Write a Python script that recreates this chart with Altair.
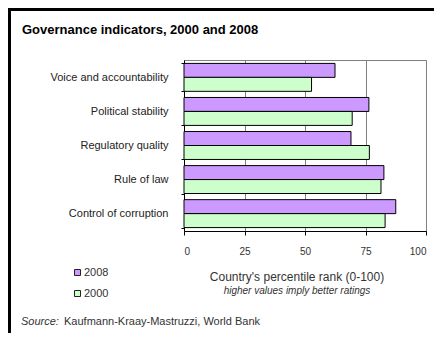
import altair as alt
import pandas as pd

categories = ["Voice and accountability", "Political stability", "Regulatory quality",
              "Rule of law", "Control of corruption"]
years = ["2008", "2000"]
values_2008 = [62.4, 76.4, 69.0, 82.6, 87.5]
values_2000 = [52.7, 69.5, 76.6, 81.4, 83.1]
x_ticks = [0, 25, 50, 75, 100]

rows = []
for c, a, b in zip(categories, values_2008, values_2000):
    rows.append({"cat": c, "year": "2008", "v": a})
    rows.append({"cat": c, "year": "2000", "v": b})
df = pd.DataFrame(rows)

FONT = "Liberation Sans"

bars = alt.Chart(df).mark_bar(stroke="black", strokeWidth=1).encode(
    x=alt.X("v:Q", scale=alt.Scale(domain=[0, 100], nice=False),
            axis=alt.Axis(values=x_ticks, title=None, grid=True, gridColor="#808080",
                          gridOpacity=1, domainColor="black", tickColor="black",
                          tickSize=4, labelPadding=11, labelFontSize=10,
                          labelColor="#333", labelFont=FONT)),
    y=alt.Y("cat:N", sort=categories,
            scale=alt.Scale(paddingInner=0.18, paddingOuter=0.1),
            axis=alt.Axis(title=None, labelFontSize=11, labelColor="#222", labelFont=FONT,
                          domainColor="black", tickColor="black", tickSize=3,
                          tickBand="extent", labelPadding=13)),
    yOffset=alt.YOffset("year:N", sort=years),
    color=alt.Color("year:N", sort=years,
                    scale=alt.Scale(domain=years, range=["#CC99FF", "#CCFFCC"]),
                    legend=alt.Legend(title=None, orient="none", legendX=-112, legendY=207,
                                      symbolType="square", symbolSize=36,
                                      symbolStrokeColor="#222", symbolStrokeWidth=1,
                                      labelFontSize=11, labelColor="#333", labelFont=FONT,
                                      labelOffset=1, rowPadding=9, symbolOffset=0)),
)

def txt(s, x, y, size, **kw):
    return alt.Chart(pd.DataFrame({"t": [s]})).mark_text(
        fontSize=size, font=FONT, **kw).encode(
        text="t:N", x=alt.value(x), y=alt.value(y))

title = txt("Governance indicators, 2000 and 2008", -162, -30, 13,
            fontWeight="bold", align="left", baseline="middle", color="black")
xtitle = txt("Country's percentile rank (0-100)", 113, 217, 12,
             align="center", baseline="middle", color="#333")
xsub = txt("higher values imply better ratings", 113, 231, 10,
           fontStyle="italic", align="center", baseline="middle", color="#333")
src1 = txt("Source:", -163, 262, 11, fontStyle="italic", align="left",
           baseline="middle", color="#333")
src2 = txt("Kaufmann-Kraay-Mastruzzi, World Bank", -120, 262, 11, align="left",
           baseline="middle", color="#333")

frame_df = pd.DataFrame({"k": [1]})
left_line = alt.Chart(frame_df).mark_rule(color="black", strokeWidth=3).encode(
    x=alt.value(-174.5), y=alt.value(-52), y2=alt.value(300))
top_line = alt.Chart(frame_df).mark_rule(color="black", strokeWidth=3).encode(
    x=alt.value(-176), x2=alt.value(300), y=alt.value(-50.5))

chart = alt.layer(bars, title, xtitle, xsub, src1, src2, left_line, top_line).properties(
    width=242, height=171,
    autosize=alt.AutoSizeParams(type="none"),
    padding={"left": 176, "top": 52, "right": 8, "bottom": 102},
    background="white",
).configure_view(stroke="#808080", strokeWidth=1)

chart.save("out.html", embed_options={"renderer": "svg", "actions": False})
